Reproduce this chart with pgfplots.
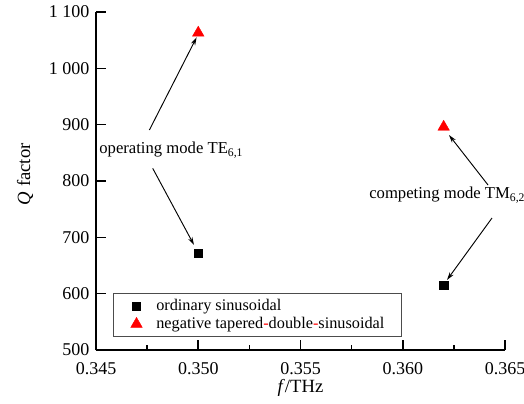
\documentclass[border=0pt]{standalone}
\usepackage{pgfplots}
\pgfplotsset{compat=1.18}
\usetikzlibrary{arrows.meta}
\usepackage{fontspec}
\setmainfont{Liberation Serif}
\begin{document}
\begin{tikzpicture}
\useasboundingbox (-72pt,-39.75pt) rectangle (321pt,262.5pt);
\begin{axis}[
  at={(0,0)}, anchor=south west,
  scale only axis, width=306.75pt, height=253.5pt,
  xmin=0.345, xmax=0.365, ymin=500, ymax=1100,
  axis lines=left,
  axis line style={-, line width=1.5pt},
  tick align=inside,
  major tick length=7.5pt, minor tick length=3.5pt,
  every tick/.style={line width=1.2pt, black},
  xtick={0.345,0.350,0.355,0.360,0.365},
  xticklabels={\mbox{0.345},\mbox{0.350},\mbox{0.355},\mbox{0.360},\mbox{0.365}},
  minor xtick={0.3475,0.3525,0.3575,0.3625},
  ytick={500,600,700,800,900,1000,1100},
  yticklabels={\mbox{500},\mbox{600},\mbox{700},\mbox{800},\mbox{900},\mbox{1 000},\mbox{1 100}},
  ticklabel style={font=\rmfamily\fontsize{13.5}{15}\selectfont},
  xticklabel style={yshift=-6pt},
  yticklabel style={xshift=-1.5pt},
  xlabel={\textit{f}/THz},
  ylabel={\textit{Q} factor},
  label style={font=\fontsize{14}{16}\selectfont},
  xlabel style={at={(axis description cs:0.5,-0.1124)}, anchor=center},
  ylabel style={at={(axis description cs:-0.1736,0.52)}, anchor=center},
  clip=false,
  legend style={at={(rel axis cs:0.0416,0.0385)}, anchor=south west,
    draw=black!70, line width=0.6pt,
    font=\fontsize{12.2}{13}\selectfont,
    inner xsep=13pt, inner ysep=4.4pt,
    row sep=3.5pt, column sep=0pt,
    nodes={inner sep=0pt}},
  legend cell align=left,
  legend image code/.code={\draw[mark repeat=2,mark phase=2,#1] plot coordinates {(0pt,0pt) (7pt,0pt) (14pt,0pt)};},
  /tikz/every even column/.append style={column sep=0pt},
  /tikz/every odd column/.append style={column sep=10.5pt},
]
\addplot[only marks, mark=square*, mark size=3.2pt, black, line width=0.5pt] coordinates {(0.350,672) (0.362,615)};
\addlegendentry{ordinary sinusoidal}
\addplot[only marks, mark=triangle*, mark size=5pt, red, line width=0.3pt] coordinates {(0.350,1063) (0.362,896)};
\addlegendentry{negative tapered\textcolor{red}{-}double\textcolor{red}{-}sinusoidal}
\draw[-{Stealth[length=6pt,width=3.5pt]}, line width=0.7pt] (axis cs:0.34761,890.5) -- (axis cs:0.34992,1055);
\draw[-{Stealth[length=6pt,width=3.5pt]}, line width=0.7pt] (axis cs:0.347773,822.5) -- (axis cs:0.349792,686.4);
\draw[-{Stealth[length=6pt,width=3.5pt]}, line width=0.7pt] (axis cs:0.36417,792.9) -- (axis cs:0.362262,881.6);
\draw[-{Stealth[length=6pt,width=3.5pt]}, line width=0.7pt] (axis cs:0.364364,734.3) -- (axis cs:0.362164,624.3);
\node[anchor=west, inner sep=0pt, font=\fontsize{12.5}{14}\selectfont] at (axis cs:0.34515,855) {operating mode TE\textsubscript{6,1}};
\node[anchor=west, inner sep=0pt, font=\fontsize{12.5}{14}\selectfont] at (axis cs:0.35835,775) {competing mode TM\textsubscript{6,2}};
\end{axis}
\end{tikzpicture}
\end{document}
